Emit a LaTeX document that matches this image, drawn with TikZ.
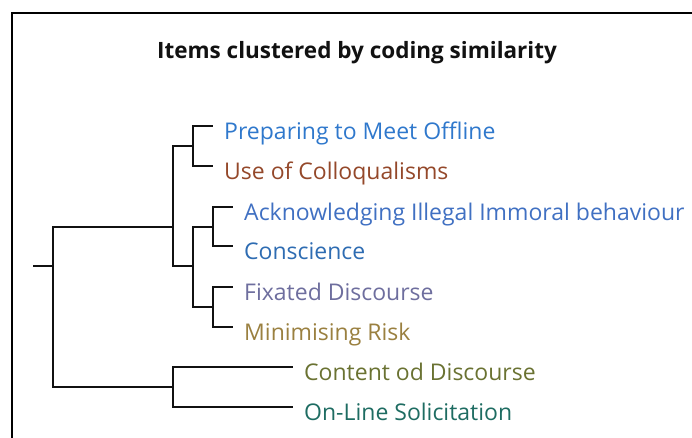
\documentclass[tikz,border=0pt]{standalone}
\usepackage{fontspec}
\setmainfont{Open Sans}
\usetikzlibrary{positioning,calc}
\definecolor{Ink}{HTML}{111111}
\definecolor{PrepBlue}{HTML}{2F78CC}
\definecolor{ColloBrown}{HTML}{94482A}
\definecolor{AckBlue}{HTML}{4070C2}
\definecolor{ConsBlue}{HTML}{2E6CB2}
\definecolor{FixGrey}{HTML}{6E6E9E}
\definecolor{RiskKhaki}{HTML}{9A8040}
\definecolor{ContOlive}{HTML}{6A7232}
\definecolor{SolTeal}{HTML}{1E6C62}
\tikzset{
  leaf/.style={anchor=west,inner xsep=11pt,inner ysep=0pt,text height=32pt,text depth=5pt,font=\fontsize{23}{26}\selectfont},
  titletext/.style={anchor=base,inner sep=0pt,font=\fontsize{22.5}{26}\selectfont\bfseries,text=Ink},
  branch/.style={draw=Ink,line width=2.2pt},
  frame/.style={draw=black,line width=2.6pt}
}
\begin{document}
\begin{tikzpicture}[x=1pt,y=-1pt]
  \useasboundingbox (0,0) rectangle (692,438);
  \draw[frame] (12,438) |- (692,13);
  \node[titletext] (title) at (357,59) {Items clustered by coding similarity};
  % junctions
  \coordinate (root) at (33,266);
  \coordinate (jA) at (53,266);
  \coordinate (jB) at (173,227);
  \coordinate (jC) at (193,146);
  \coordinate (jD) at (193,266);
  \coordinate (jE) at (213,227);
  \coordinate (jF) at (213,307);
  \coordinate (jG) at (173,387);
  % leaves
  \node[leaf,text=PrepBlue] (prep) at (213,126) {Preparing to Meet Offline};
  \node[leaf,text=ColloBrown] (collo) at (213,166) {Use of Colloqualisms};
  \node[leaf,text=AckBlue] (ack) at (233,207) {Acknowledging Illegal Immoral behaviour};
  \node[leaf,text=ConsBlue] (cons) at (233,246) {Conscience};
  \node[leaf,text=FixGrey] (fix) at (233,287) {Fixated Discourse};
  \node[leaf,text=RiskKhaki] (risk) at (233,327) {Minimising Risk};
  \node[leaf,text=ContOlive] (cont) at (293,367) {Content od Discourse};
  \node[leaf,text=SolTeal] (sol) at (293,407) {On-Line Solicitation};
  % tree
  \draw[branch] (root) -- (jA);
  \draw[branch] (jA) |- (jB);
  \draw[branch] (jA) |- (jG);
  \draw[branch] (jB) |- (jC);
  \draw[branch] (jB) |- (jD);
  \draw[branch] (jC) |- (prep.west);
  \draw[branch] (jC) |- (collo.west);
  \draw[branch] (jD) |- (jE);
  \draw[branch] (jD) |- (jF);
  \draw[branch] (jE) |- (ack.west);
  \draw[branch] (jE) |- (cons.west);
  \draw[branch] (jF) |- (fix.west);
  \draw[branch] (jF) |- (risk.west);
  \draw[branch] (jG) |- (cont.west);
  \draw[branch] (jG) |- (sol.west);
\end{tikzpicture}
\end{document}
